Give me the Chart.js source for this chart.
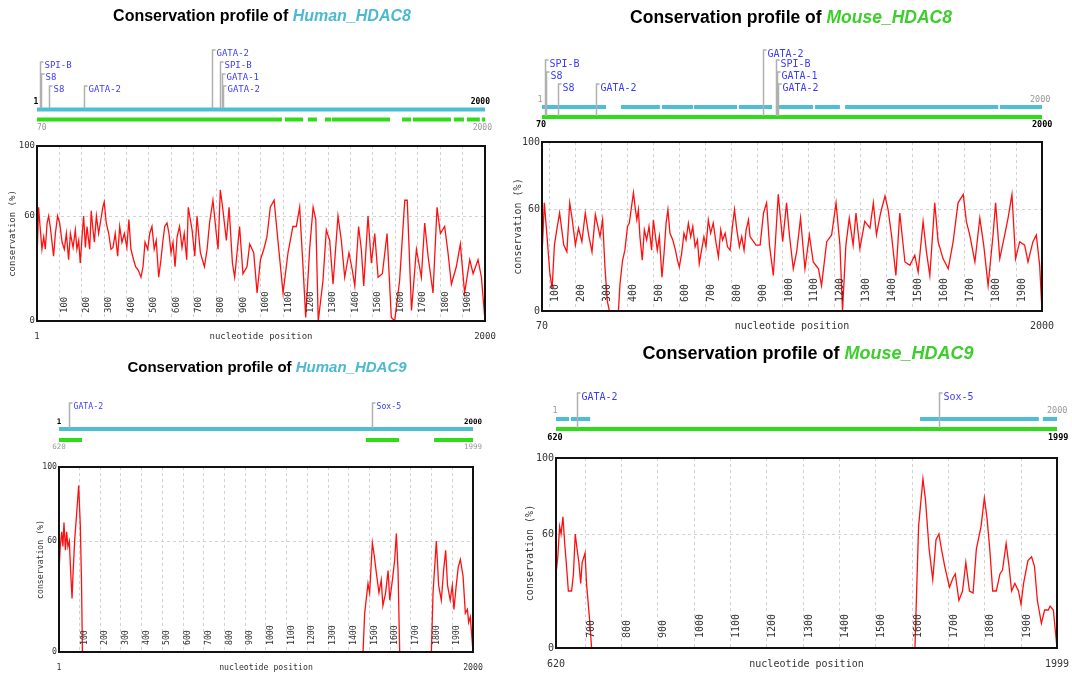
<!DOCTYPE html>
<html><head><meta charset="utf-8">
<script src="https://cdn.jsdelivr.net/npm/chart.js@4"></script>
<style>
html,body{margin:0;padding:0;background:#fff;}
#wrap{position:relative;width:1072px;height:676px;overflow:hidden;background:#fff;}
#wrap canvas{position:absolute;left:0;top:0;}
.title{position:absolute;font-family:"Liberation Sans",Arial,sans-serif;font-weight:bold;color:#000;white-space:nowrap;transform:translate(-50%,-50%);}
.title i.h{color:#4cb9d3;}
.title i.m{color:#3ccf2b;}
</style></head>
<body><div id="wrap">
<canvas id="c1" width="1072" height="676" style="width:1072px;height:676px"></canvas>
<canvas id="c2" width="1072" height="676" style="width:1072px;height:676px"></canvas>
<canvas id="c3" width="1072" height="676" style="width:1072px;height:676px"></canvas>
<canvas id="c4" width="1072" height="676" style="width:1072px;height:676px"></canvas>
<div class="title" style="left:262px;top:16px;font-size:16px">Conservation profile of <i class="h">Human_HDAC8</i></div>
<div class="title" style="left:791px;top:17px;font-size:17.5px">Conservation profile of <i class="m">Mouse_HDAC8</i></div>
<div class="title" style="left:267px;top:366px;font-size:15px">Conservation profile of <i class="h">Human_HDAC9</i></div>
<div class="title" style="left:808px;top:353px;font-size:18px">Conservation profile of <i class="m">Mouse_HDAC9</i></div>
</div>
<script>
// ---------------- DATA ----------------
const yTicks = [0, 60, 100];
const xTicks8 = [100,200,300,400,500,600,700,800,900,1000,1100,1200,1300,1400,1500,1600,1700,1800,1900];
const xTicksH9 = [100,200,300,400,500,600,700,800,900,1000,1100,1200,1300,1400,1500,1600,1700,1800,1900];
const xTicksM9 = [700,800,900,1000,1100,1200,1300,1400,1500,1600,1700,1800,1900];

// Human_HDAC8 conservation profile
const h8Pos = [1,8,16,23,31,38,46,53,60,68,75,83,93,102,113,123,132,142,150,162,172,179,187,194,202,209,217,224,236,243,251,257,266,276,286,295,301,310,321,331,340,350,361,370,380,391,402,411,420,432,441,453,465,474,483,495,504,514,524,533,544,554,563,571,581,590,599,608,617,626,637,648,658,669,676,693,705,715,730,748,760,771,786,801,809,819,831,846,858,873,883,905,920,938,950,968,983,998,1013,1027,1042,1059,1076,1099,1121,1143,1158,1173,1188,1200,1218,1233,1245,1256,1277,1292,1307,1322,1344,1359,1374,1393,1408,1419,1436,1448,1459,1478,1493,1508,1523,1542,1563,1582,1597,1619,1642,1653,1672,1694,1716,1731,1746,1768,1786,1801,1820,1835,1850,1872,1890,1909,1932,1947,1969,1984,2000];
const h8Val = [35,65,52,41,48,41,56,60,54,45,37,50,60,56,45,41,50,35,50,42,52,41,46,33,48,60,42,54,41,63,52,45,60,50,58,65,68,56,50,41,42,50,37,54,45,50,42,58,41,35,31,29,25,31,45,41,50,54,41,46,25,35,46,54,56,50,39,45,31,48,54,42,50,35,65,52,37,60,39,31,41,56,69,50,41,75,63,46,65,33,25,54,27,31,44,39,16,35,41,48,65,69,46,16,39,54,54,65,31,2,42,65,58,0,23,52,46,21,60,46,25,39,29,20,54,41,20,60,33,50,25,27,50,2,0,23,69,69,6,41,25,56,37,16,65,50,54,39,21,31,44,16,35,27,35,25,0];

// Mouse_HDAC8 conservation profile
const m8Pos = [70,79,89,100,109,118,128,138,154,166,177,186,199,211,224,237,250,263,276,294,304,313,322,330,365,371,381,390,400,407,414,423,429,436,442,448,457,465,474,483,493,500,508,515,523,533,541,549,556,564,575,585,593,600,609,618,626,635,644,652,661,670,677,686,695,703,712,721,731,742,751,760,767,777,786,796,805,813,822,832,841,850,858,867,873,896,912,925,937,948,963,982,999,1014,1025,1040,1053,1068,1085,1102,1117,1137,1149,1169,1188,1205,1220,1230,1243,1256,1271,1282,1297,1316,1336,1349,1361,1377,1394,1406,1419,1436,1451,1471,1490,1509,1522,1541,1554,1567,1586,1599,1618,1638,1657,1676,1696,1708,1721,1741,1760,1775,1792,1811,1821,1837,1856,1869,1884,1898,1914,1933,1946,1965,1978,1991,2000];
const m8Val = [33,64,45,23,13,39,49,58,39,35,64,55,39,49,41,58,45,35,57,44,54,26,6,0,0,16,30,36,50,52,60,70,62,54,60,44,30,48,42,50,36,54,44,36,44,20,34,52,60,46,42,36,30,26,34,46,42,52,44,50,38,42,28,36,44,38,54,46,52,40,32,48,42,46,38,36,50,60,48,38,44,36,48,54,44,39,39,58,64,39,21,69,41,64,45,25,35,55,25,45,29,25,15,41,45,64,39,0,39,55,39,58,37,53,49,64,45,58,68,60,45,21,58,29,27,33,23,53,35,21,64,41,31,25,41,64,69,53,45,29,55,39,15,45,64,31,45,55,69,31,41,39,29,41,45,27,0];

// Human_HDAC9 conservation profile (null = unaligned gap)
const h9Pos = [1,7,14,20,25,32,38,44,51,57,64,69,77,85,96,104,110,114,800,1469,1477,1493,1501,1514,1522,1533,1546,1557,1565,1578,1590,1598,1611,1622,1630,1638,1646,1720,1799,1807,1823,1834,1847,1858,1868,1877,1890,1900,1908,1919,1929,1939,1952,1963,1973,1979,1987,2000];
const h9Val = [43,57,65,57,70,55,65,57,60,44,29,43,61,73,90,68,36,0,null,0,21,37,32,59,53,43,32,39,25,32,44,28,39,50,64,44,0,null,0,32,60,36,28,44,55,36,28,36,23,36,46,50,41,21,23,16,19,0];

// Mouse_HDAC9 conservation profile
const m9Pos = [620,625,630,634,639,644,649,654,663,668,673,678,683,688,692,700,704,712,718,1100,1608,1618,1630,1637,1647,1657,1666,1674,1681,1690,1703,1713,1719,1729,1739,1748,1758,1768,1777,1790,1799,1806,1814,1822,1832,1842,1849,1859,1867,1874,1883,1893,1900,1907,1919,1929,1937,1945,1956,1965,1975,1980,1989,1999];
const m9Val = [39,48,64,60,69,55,43,30,30,39,60,52,45,34,45,50,34,16,0,null,0,64,89,78,52,36,57,60,52,43,32,37,39,25,30,45,30,29,52,64,79,69,52,30,30,39,41,55,43,30,34,30,23,34,46,48,43,25,13,20,20,22,20,0];

// Track segments (start, end) in nucleotide positions
const h8Cyan = [[1,2000]];
const h8Green = [[1,1094],[1107,1188],[1210,1250],[1286,1313],[1317,1576],[1630,1670],[1678,1848],[1861,1906],[1919,1977],[1986,2000]];
const m8Cyan = [[70,317],[375,525],[533,653],[657,823],[830,958],[973,1116],[1124,1220],[1240,1831],[1838,2000]];
const m8Green = [[70,2000]];
const h9Cyan = [[1,2000]];
const h9Green = [[1,112],[1483,1643],[1812,2000]];
const m9Cyan = [[620,656],[661,714],[1622,1949],[1960,1999]];
const m9Green = [[620,1999]];

// Transcription factor sites
const h8TfNames = ['SPI-B','S8','S8','GATA-2','GATA-2','SPI-B','GATA-1','GATA-2'];
const h8TfPos = [14,19,55,211,782,818,827,831];
const h8TfRow = [1,2,3,3,0,1,2,3];
const m8TfNames = ['SPI-B','S8','S8','GATA-2','GATA-2','SPI-B','GATA-1','GATA-2'];
const m8TfPos = [82,85,132,278,923,973,977,981];
const m8TfRow = [1,2,3,3,0,1,2,3];
const h9TfNames = ['GATA-2','Sox-5'];
const h9TfPos = [49,1512];
const h9TfRow = [0,0];
const m9TfNames = ['GATA-2','Sox-5'];
const m9TfPos = [678,1674];
const m9TfRow = [0,0];

// ---------------- DRAWING ----------------
const MONO = '"DejaVu Sans Mono", "Liberation Mono", monospace';
const CYAN = '#4dbfd5', GREEN = '#2fdc1a', TFBLUE = '#3b3bff';

function makePlugin(p) {
  return {
    id: 'panel_' + p.id,
    afterDraw(chart) {
      const ctx = chart.ctx, a = chart.chartArea, xs = chart.scales.x;
      const X = v => xs.getPixelForValue(v);
      ctx.save();
      ctx.setLineDash([]);
      ctx.strokeStyle = '#111'; ctx.lineWidth = 2;
      ctx.strokeRect(a.left, a.top, a.right - a.left, a.bottom - a.top);
      ctx.fillStyle = '#333'; ctx.font = p.fs + 'px ' + MONO;
      ctx.textAlign = 'left'; ctx.textBaseline = 'middle';
      p.xTicks.forEach(v => {
        ctx.save(); ctx.translate(X(v) + p.lblDx, a.bottom - p.lblDy); ctx.rotate(-Math.PI / 2);
        ctx.fillText(String(v), 0, 0); ctx.restore();
      });
      ctx.textAlign = 'center';
      ctx.fillText(String(p.xMin), X(p.xMin), p.xTitleY);
      ctx.fillText(String(p.xMax), X(p.xMax), p.xTitleY);
      p.tracks.forEach(t => {
        ctx.fillStyle = t.color;
        t.segs.forEach(s => ctx.fillRect(X(s[0]), t.y - t.h / 2, X(s[1]) - X(s[0]), t.h));
      });
      p.trackLabels.forEach(l => {
        ctx.font = (l.b ? 'bold ' : '') + p.tfs + 'px ' + MONO;
        ctx.fillStyle = l.c; ctx.textAlign = l.align; ctx.textBaseline = 'middle';
        ctx.fillText(l.t, (l.edge === 'L' ? a.left : a.right) + l.dx, l.y);
      });
      ctx.font = p.fs + 'px ' + MONO; ctx.textAlign = 'left'; ctx.textBaseline = 'middle';
      p.tfNames.forEach((name, i) => {
        const px = Math.round(X(p.tfPos[i])) + 0.5, ly = p.tfRowY[p.tfRow[i]];
        ctx.strokeStyle = '#b0b0b0'; ctx.lineWidth = 1.5;
        ctx.beginPath(); ctx.moveTo(px, p.tfTarget); ctx.lineTo(px, ly - 4); ctx.lineTo(px + 3, ly - 4); ctx.stroke();
        ctx.fillStyle = TFBLUE; ctx.fillText(name, px + 4, ly);
      });
      ctx.restore();
    }
  };
}

function makeChart(id, p) {
  const lh = p.fs * 1.2;
  const padL = p.yTitleX - lh / 2;
  const padB = 676 - (p.xTitleY + lh / 2);
  const font = { family: MONO, size: p.fs };
  const data = p.pos.map((x, i) => ({ x: x, y: p.val[i] }));
  return new Chart(document.getElementById(id), {
    type: 'line',
    data: { datasets: [{ data: data, borderColor: '#ff1010', borderWidth: 1.3, pointRadius: 0, tension: 0, spanGaps: false, fill: false }] },
    options: {
      responsive: false, animation: false, events: [],
      layout: { padding: { left: padL, top: p.T, right: 1072 - p.R, bottom: padB } },
      plugins: { legend: { display: false }, tooltip: { enabled: false }, title: { display: false } },
      scales: {
        x: {
          type: 'linear', min: p.xMin, max: p.xMax,
          afterBuildTicks: s => { s.ticks = p.xTicks.map(v => ({ value: v })); },
          afterFit: s => { s.height = p.xTitleY + lh / 2 - p.B; s.paddingLeft = 0; s.paddingRight = 0; },
          ticks: { display: false },
          grid: { color: '#d2d2d2', lineWidth: 1, drawTicks: false },
          border: { display: false, dash: [3, 3] },
          title: { display: true, text: 'nucleotide position', color: '#333', font: font, padding: 0 }
        },
        y: {
          type: 'linear', min: 0, max: 100,
          afterBuildTicks: s => { s.ticks = yTicks.map(v => ({ value: v })); },
          afterFit: s => { s.width = p.L - padL; s.paddingTop = 0; s.paddingBottom = 0; },
          ticks: { color: '#333', font: font, padding: 2 },
          grid: { color: c => (c.tick && c.tick.value === 60) ? '#d2d2d2' : 'rgba(0,0,0,0)', drawTicks: false },
          border: { display: false, dash: [3, 3] },
          title: { display: true, text: 'conservation (%)', color: '#333', font: font, padding: 0 }
        }
      }
    },
    plugins: [makePlugin(p)]
  });
}

makeChart('c1', {
  id: 'h8', pos: h8Pos, val: h8Val, xMin: 1, xMax: 2000, xTicks: xTicks8,
  L: 37, R: 485, T: 146, B: 321, fs: 9, tfs: 8, yTitleX: 13, xTitleY: 337, lblDx: 5, lblDy: 8,
  tracks: [{ segs: h8Cyan, y: 109.5, h: 4, color: CYAN }, { segs: h8Green, y: 119.5, h: 4, color: GREEN }],
  trackLabels: [
    { t: '1', edge: 'L', dx: -1, y: 102, align: 'center', c: '#000', b: true },
    { t: '2000', edge: 'R', dx: 5, y: 102, align: 'right', c: '#000', b: true },
    { t: '70', edge: 'L', dx: 0, y: 128, align: 'left', c: '#999' },
    { t: '2000', edge: 'R', dx: 7, y: 128, align: 'right', c: '#999' }
  ],
  tfNames: h8TfNames, tfPos: h8TfPos, tfRow: h8TfRow, tfRowY: [54, 66, 78, 90], tfTarget: 108
});

makeChart('c2', {
  id: 'm8', pos: m8Pos, val: m8Val, xMin: 70, xMax: 2000, xTicks: xTicks8,
  L: 542, R: 1042, T: 142, B: 311, fs: 10, tfs: 8.5, yTitleX: 518, xTitleY: 326, lblDx: 6, lblDy: 9,
  tracks: [{ segs: m8Cyan, y: 107, h: 4, color: CYAN }, { segs: m8Green, y: 117, h: 4, color: GREEN }],
  trackLabels: [
    { t: '1', edge: 'L', dx: -2, y: 100, align: 'center', c: '#999' },
    { t: '2000', edge: 'R', dx: -12, y: 100, align: 'left', c: '#999' },
    { t: '70', edge: 'L', dx: -1, y: 125, align: 'center', c: '#000', b: true },
    { t: '2000', edge: 'R', dx: -10, y: 125, align: 'left', c: '#000', b: true }
  ],
  tfNames: m8TfNames, tfPos: m8TfPos, tfRow: m8TfRow, tfRowY: [54, 64, 76, 88], tfTarget: 116
});

makeChart('c3', {
  id: 'h9', pos: h9Pos, val: h9Val, xMin: 1, xMax: 2000, xTicks: xTicksH9,
  L: 59, R: 473, T: 467, B: 652, fs: 8.2, tfs: 7.5, yTitleX: 41, xTitleY: 668, lblDx: 5, lblDy: 7,
  tracks: [{ segs: h9Cyan, y: 429, h: 4, color: CYAN }, { segs: h9Green, y: 440, h: 4, color: GREEN }],
  trackLabels: [
    { t: '1', edge: 'L', dx: 0, y: 422, align: 'center', c: '#000', b: true },
    { t: '2000', edge: 'R', dx: 9, y: 422, align: 'right', c: '#000', b: true },
    { t: '620', edge: 'L', dx: 0, y: 447, align: 'center', c: '#999' },
    { t: '1999', edge: 'R', dx: 9, y: 447, align: 'right', c: '#999' }
  ],
  tfNames: h9TfNames, tfPos: h9TfPos, tfRow: h9TfRow, tfRowY: [407], tfTarget: 428
});

makeChart('c4', {
  id: 'm9', pos: m9Pos, val: m9Val, xMin: 620, xMax: 1999, xTicks: xTicksM9,
  L: 556, R: 1057, T: 458, B: 648, fs: 10, tfs: 8.5, yTitleX: 530, xTitleY: 664, lblDx: 6, lblDy: 10,
  tracks: [{ segs: m9Cyan, y: 419, h: 4, color: CYAN }, { segs: m9Green, y: 429, h: 4, color: GREEN }],
  trackLabels: [
    { t: '1', edge: 'L', dx: -1, y: 411, align: 'center', c: '#999' },
    { t: '2000', edge: 'R', dx: -10, y: 411, align: 'left', c: '#999' },
    { t: '620', edge: 'L', dx: -1, y: 438, align: 'center', c: '#000', b: true },
    { t: '1999', edge: 'R', dx: -9, y: 438, align: 'left', c: '#000', b: true }
  ],
  tfNames: m9TfNames, tfPos: m9TfPos, tfRow: m9TfRow, tfRowY: [397], tfTarget: 428
});
</script>
</body></html>
